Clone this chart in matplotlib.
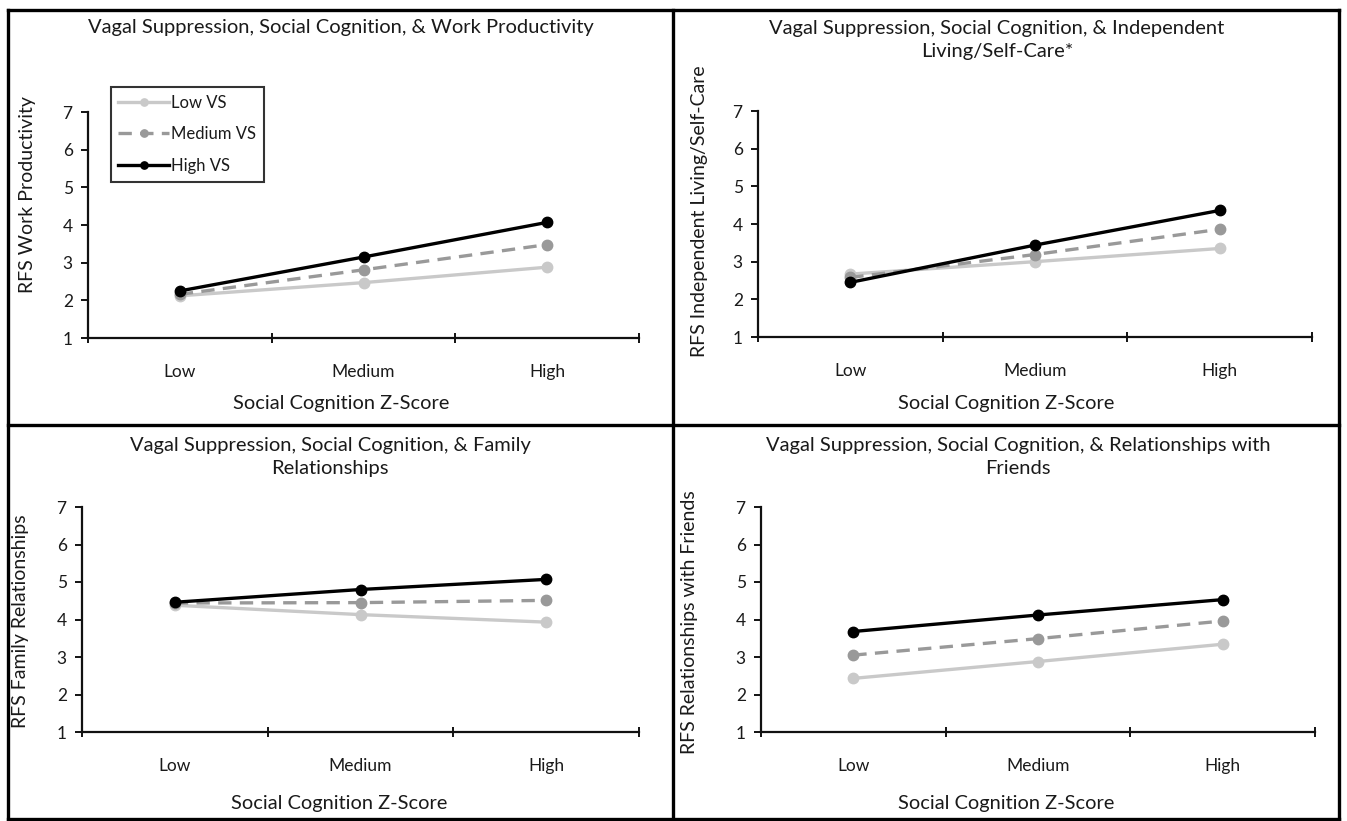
import numpy as np
import matplotlib
matplotlib.use("Agg")
import matplotlib.pyplot as plt
from matplotlib.lines import Line2D

plt.rcParams['font.family'] = ['Lato', 'DejaVu Sans']

# category labels on x
levels = ['Low', 'Medium', 'High']
series_names = ['Low VS', 'Medium VS', 'High VS']

# RFS scores, one list per VS level
work_low = [2.12, 2.47, 2.88]
work_med = [2.16, 2.81, 3.48]
work_high = [2.25, 3.15, 4.07]

indep_low = [2.67, 3.00, 3.35]
indep_med = [2.58, 3.19, 3.86]
indep_high = [2.45, 3.44, 4.36]

family_low = [4.38, 4.13, 3.93]
family_med = [4.44, 4.45, 4.51]
family_high = [4.46, 4.80, 5.07]

friends_low = [2.43, 2.88, 3.34]
friends_med = [3.05, 3.49, 3.96]
friends_high = [3.68, 4.12, 4.53]

W, H = 1347, 821
fig = plt.figure(figsize=(W / 100, H / 100), dpi=100)


def fx(x):
    return x / W


def fy(y):
    return 1 - y / H


TXT = '#1a1a1a'
styles = [dict(color='#c9c9c9', ls='-'),
          dict(color='#999999', ls=(0, (4, 2.5))),
          dict(color='black', ls='-')]

panels = [
    # box = (left, right, top, bottom) in px
    dict(box=(88, 639, 112, 338),
         title="Vagal Suppression, Social Cognition, & Work Productivity",
         tpos=(341, 28), ylab="RFS Work Productivity", ypos=(28, 195),
         xpos=(341, 403), data=[work_low, work_med, work_high], legend=True),
    dict(box=(758, 1312, 111, 337),
         title="Vagal Suppression, Social Cognition, & Independent\nLiving/Self-Care*",
         tpos=(997, 40), ylab="RFS Independent Living/Self-Care", ypos=(700, 211),
         xpos=(1006, 403), data=[indep_low, indep_med, indep_high], legend=False),
    dict(box=(82, 639, 507, 732),
         title="Vagal Suppression, Social Cognition, & Family\nRelationships",
         tpos=(330, 457), ylab="RFS Family Relationships", ypos=(21, 621),
         xpos=(339, 803), data=[family_low, family_med, family_high], legend=False),
    dict(box=(761, 1315, 507, 732),
         title="Vagal Suppression, Social Cognition, & Relationships with\nFriends",
         tpos=(1018, 457), ylab="RFS Relationships with Friends", ypos=(690, 622),
         xpos=(1006, 803), data=[friends_low, friends_med, friends_high], legend=False),
]

xs = np.arange(len(levels)) + 0.5

for p in panels:
    l, r, t, b = p['box']
    ax = fig.add_axes([fx(l), fy(b), fx(r - l), (b - t) / H])
    for vals, name, st in zip(p['data'], series_names, styles):
        ax.plot(xs, vals, color=st['color'], ls=st['ls'], lw=2.4,
                marker='o', ms=7.5, label=name)
    ax.set_xlim(0, len(levels))
    ax.set_ylim(1, 7)
    ax.set_yticks(range(1, 8))
    ax.set_xticks(range(len(levels) + 1))
    ax.set_xticklabels([])
    ax.set_xticks(xs, minor=True)
    ax.set_xticklabels(levels, minor=True)
    ax.tick_params(axis='x', which='minor', length=0, pad=19, labelsize=12.5, labelcolor=TXT)
    ax.tick_params(axis='x', which='major', direction='inout', length=7, width=1.3)
    ax.tick_params(axis='y', direction='out', length=5, width=1.3, labelsize=12.5,
                   labelcolor=TXT, pad=6)
    for s in ['top', 'right']:
        ax.spines[s].set_visible(False)
    for s in ['left', 'bottom']:
        ax.spines[s].set_linewidth(1.6)
        ax.spines[s].set_color('#111111')
    ax.patch.set_alpha(0)

    fig.text(fx(p['tpos'][0]), fy(p['tpos'][1]), p['title'], ha='center', va='center',
             fontsize=14.5, color=TXT, linespacing=1.45)
    fig.text(fx(p['xpos'][0]), fy(p['xpos'][1]), "Social Cognition Z-Score",
             ha='center', va='center', fontsize=14.4, color=TXT)
    fig.text(fx(p['ypos'][0]), fy(p['ypos'][1]), p['ylab'], ha='center', va='center',
             rotation=90, fontsize=14, color=TXT)

    if p['legend']:
        leg = ax.legend(loc='upper left', bbox_to_anchor=(fx(111), fy(87)),
                        bbox_transform=fig.transFigure, fancybox=False,
                        edgecolor='black', fontsize=12, handlelength=3.0,
                        handletextpad=0.15, labelspacing=0.95, borderpad=0.45,
                        borderaxespad=0, markerscale=0.7)
        leg.get_frame().set_linewidth(1.5)
        for txt in leg.get_texts():
            txt.set_color(TXT)

# panel frames
bl, bt, br, bb = 8, 10, 1339, 819
midx, midy = 673, 425
lw = 2.4
for (x0, y0, x1, y1) in [(bl, bt, br, bt), (bl, bb, br, bb), (bl, bt, bl, bb),
                         (br, bt, br, bb), (midx, bt, midx, bb), (bl, midy, br, midy)]:
    fig.add_artist(Line2D([fx(x0), fx(x1)], [fy(y0), fy(y1)], color='black', lw=lw,
                          transform=fig.transFigure, solid_capstyle='projecting'))

fig.savefig('out.png', dpi=100)
